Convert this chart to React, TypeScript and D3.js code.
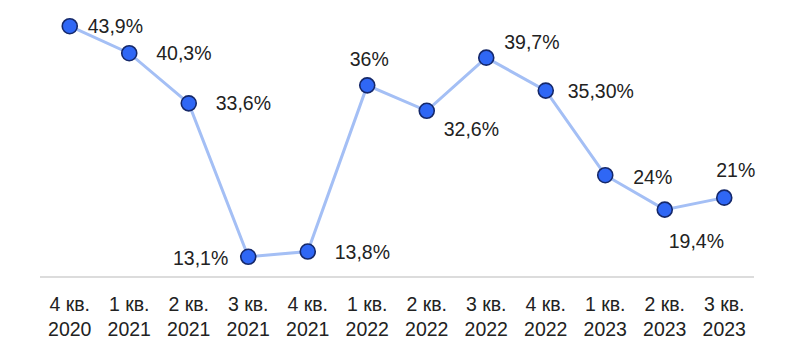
import * as d3 from 'd3';
import { useRef, useEffect } from 'react';

const quarters = ['4 кв.', '1 кв.', '2 кв.', '3 кв.', '4 кв.', '1 кв.', '2 кв.', '3 кв.', '4 кв.', '1 кв.', '2 кв.', '3 кв.'];
const years = ['2020', '2021', '2021', '2021', '2021', '2022', '2022', '2022', '2022', '2023', '2023', '2023'];
const values = [43.9, 40.3, 33.6, 13.1, 13.8, 36, 32.6, 39.7, 35.3, 24, 19.4, 21];
const labels = ['43,9%', '40,3%', '33,6%', '13,1%', '13,8%', '36%', '32,6%', '39,7%', '35,30%', '24%', '19,4%', '21%'];

// where each value label sits relative to its point
const labelPos: [number, number, string][] = [
  [18, 0, 'start'], [27, 0, 'start'], [27, 0, 'start'], [-20, 1, 'end'],
  [27, 0, 'start'], [2, -26, 'middle'], [17, 18, 'start'], [18, -16, 'start'],
  [22, 0, 'start'], [28, 2, 'start'], [4, 31, 'start'], [-8, -28, 'start'],
];

export default function App() {
  const ref = useRef<SVGSVGElement>(null);

  useEffect(() => {
    const width = 808;
    const height = 358;
    const svg = d3.select(ref.current)
      .attr('width', width)
      .attr('height', height);
    svg.selectAll('*').remove();

    const idx = values.map((_, i) => i);

    const x = d3.scaleBand<number>()
      .domain(idx)
      .range([40, 754]);

    const y = d3.scaleLinear()
      .domain([10.4, 45])
      .range([277, 18]);

    const font = '"Liberation Sans", Arial, sans-serif';

    // baseline
    svg.append('line')
      .attr('x1', 40).attr('x2', 754)
      .attr('y1', 277).attr('y2', 277)
      .attr('stroke', '#dcdcdc')
      .attr('stroke-width', 2);

    // x labels
    const xl = svg.append('g')
      .attr('font-family', font)
      .attr('font-size', 19.5)
      .attr('fill', '#222')
      .attr('text-anchor', 'middle');
    xl.selectAll('text.q')
      .data(idx)
      .enter().append('text')
      .attr('x', d => x(d)! + x.bandwidth() / 2)
      .attr('y', 311)
      .text(d => quarters[d]);
    xl.selectAll('text.y')
      .data(idx)
      .enter().append('text')
      .attr('x', d => x(d)! + x.bandwidth() / 2)
      .attr('y', 336)
      .text(d => years[d]);

    const cx = (i: number) => x(i)! + x.bandwidth() / 2;

    const line = d3.line<number>()
      .x((_, i) => cx(i))
      .y(d => y(d));

    svg.append('path')
      .datum(values)
      .attr('fill', 'none')
      .attr('stroke', '#a4bff5')
      .attr('stroke-width', 3)
      .attr('d', line);

    svg.selectAll('circle')
      .data(values)
      .enter().append('circle')
      .attr('cx', (_, i) => cx(i))
      .attr('cy', d => y(d))
      .attr('r', 7.5)
      .attr('fill', '#2f67f5')
      .attr('stroke', '#15286a')
      .attr('stroke-width', 1.6);

    svg.append('g')
      .attr('font-family', font)
      .attr('font-size', 19.5)
      .attr('fill', '#222')
      .selectAll('text')
      .data(values)
      .enter().append('text')
      .attr('x', (_, i) => cx(i) + labelPos[i][0])
      .attr('y', (d, i) => y(d) + labelPos[i][1])
      .attr('dy', '0.36em')
      .attr('text-anchor', (_, i) => labelPos[i][2])
      .text((_, i) => labels[i]);
  }, []);

  return (
    <svg ref={ref} style={{ position: 'absolute', left: 0, top: 0, background: '#fff' }}></svg>
  );
}
